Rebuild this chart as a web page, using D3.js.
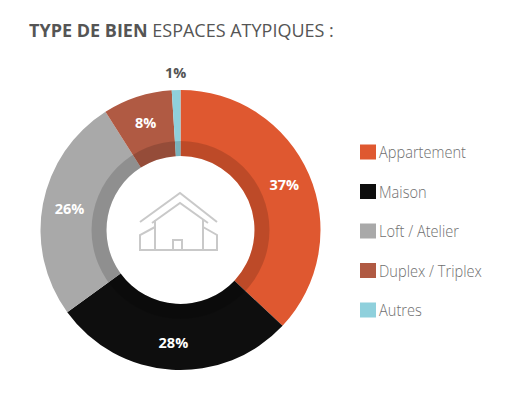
<!DOCTYPE html>
<html><head><meta charset="utf-8">
<script src="https://cdn.jsdelivr.net/npm/d3@7"></script>
<style>
html,body{margin:0;padding:0;background:#fff;}
svg{display:block;}
</style></head>
<body>
<svg id="chart" width="519" height="400"></svg>
<script>
const categories = ["Appartement", "Maison", "Loft / Atelier", "Duplex / Triplex", "Autres"];
const values = [37, 28, 26, 8, 1];
const colors = ["#DF5830", "#0E0E0E", "#A9A9A9", "#B05A43", "#8FD0DC"];
const titleBold = "TYPE DE BIEN";
const titleRest = " ESPACES ATYPIQUES :";

const svg = d3.select("#chart");
const cx = 180.5, cy = 230, R = 140, rInner = 74, rShade = 89;

// title
const title = svg.append("text").attr("x", 29).attr("y", 37)
  .attr("font-family", "'Open Sans', sans-serif").attr("font-size", 18).attr("fill", "#555");
title.append("tspan").attr("font-weight", "bold").text(titleBold);
title.append("tspan").text(titleRest);

const pie = d3.pie().sort(null).value(d => d);
const arcs = pie(values);
const arc = d3.arc().innerRadius(rInner).outerRadius(R);
const g = svg.append("g").attr("transform", `translate(${cx},${cy})`);

g.selectAll("path.slice").data(arcs).join("path")
  .attr("class", "slice").attr("d", arc).attr("fill", (d, i) => colors[i]);

// shaded inner ring
g.append("path").attr("d", d3.arc().innerRadius(rInner).outerRadius(rShade).startAngle(0).endAngle(2 * Math.PI)())
  .attr("fill", "#000").attr("opacity", 0.15);

// labels
const labelArc = d3.arc().innerRadius(113).outerRadius(113);
const outArc = d3.arc().innerRadius(157).outerRadius(157);
g.selectAll("text.lbl").data(arcs).join("text")
  .attr("class", "lbl")
  .attr("transform", d => {
    const p = (d.data < 3 ? outArc : labelArc).centroid(d);
    return `translate(${p[0]},${p[1]})`;
  })
  .attr("text-anchor", "middle").attr("dy", "0.35em")
  .attr("font-family", "'Open Sans', sans-serif").attr("font-weight", "bold").attr("font-size", 14.5)
  .attr("fill", d => d.data < 3 ? "#555" : "#fff")
  .text(d => d.data + "%");

// house icon
const icon = svg.append("g").attr("fill", "none").attr("stroke", "#c9c9c9").attr("stroke-width", 2)
  .attr("stroke-linejoin", "miter");
const line = d3.line();
icon.append("path").attr("d", line([[140,222],[180,193],[217,222]]));
icon.append("path").attr("d", line([[152,223],[180,203],[208,223]]));
icon.append("path").attr("d", line([[155,220],[155,250]]));
icon.append("path").attr("d", line([[203,220],[203,250]]));
icon.append("path").attr("d", line([[155,227],[140,235],[140,250],[217,250],[217,235],[203,227]]));
icon.append("path").attr("d", line([[173,250],[173,240],[182,240],[182,250]]));

// legend
const leg = svg.append("g");
const items = leg.selectAll("g").data(categories).join("g")
  .attr("transform", (d, i) => `translate(360,${152 + i * 39.5})`);
items.append("rect").attr("x", 0).attr("y", -7.5).attr("width", 16).attr("height", 15)
  .attr("fill", (d, i) => colors[i]);
items.append("text").attr("transform", "translate(19,0) scale(0.86,1)").attr("dy", "0.36em")
  .attr("font-family", "'Open Sans', sans-serif").attr("font-weight", 300).attr("font-size", 17)
  .attr("fill", "#6f6f6f").text(d => d);
</script>
</body></html>
